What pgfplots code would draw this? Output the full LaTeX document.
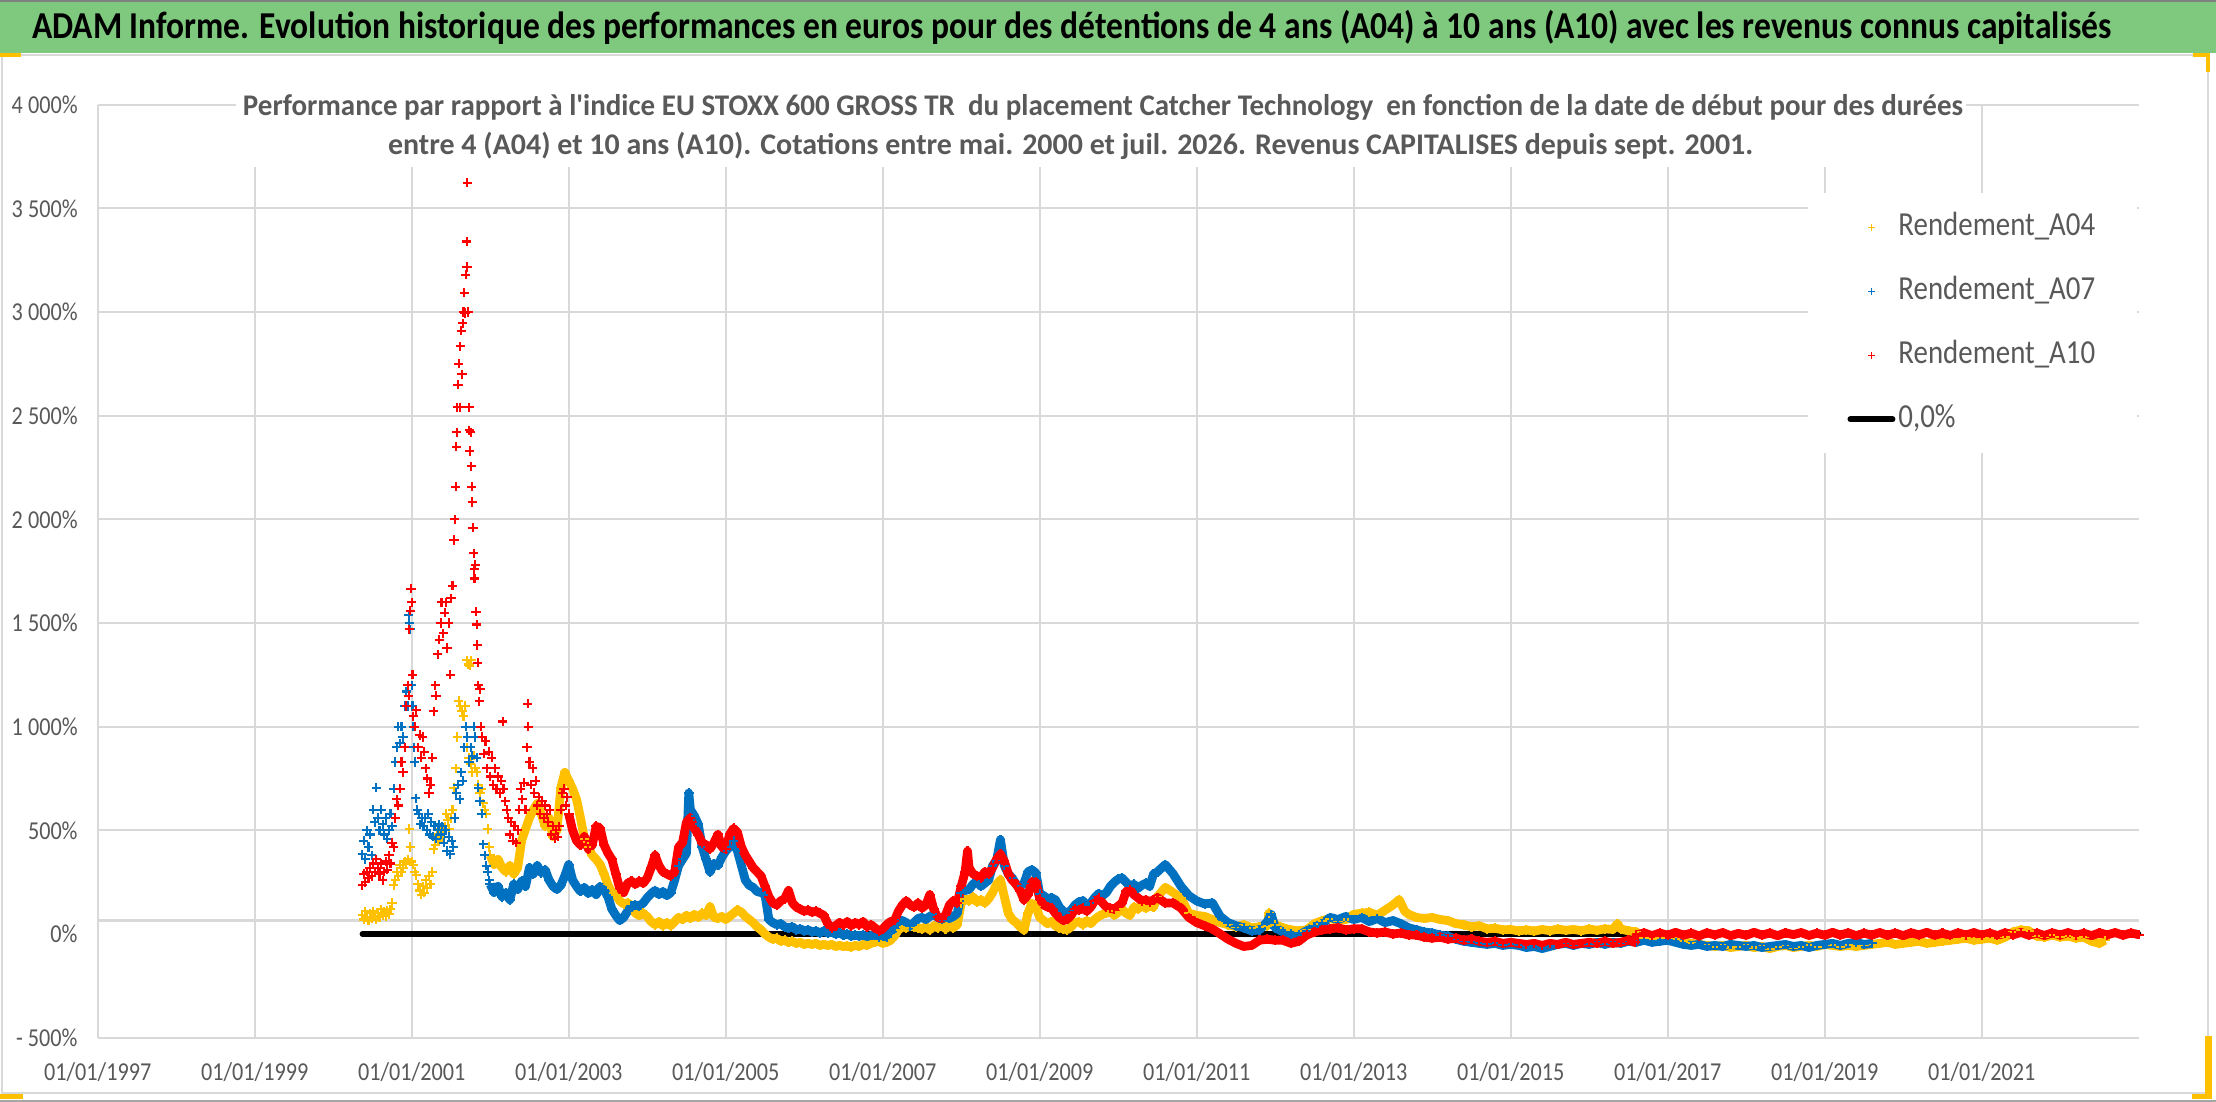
\documentclass[border=0pt]{standalone}
\usepackage{pgfplots}
\pgfplotsset{compat=1.18}
\usepackage{graphicx}
\usepackage{fontspec}
\setmainfont{Carlito}
\newfontfamily\tickfont[FakeStretch=0.86]{Carlito}
\definecolor{cgold}{HTML}{FFC000}
\definecolor{cblue}{HTML}{0070C0}
\definecolor{cred}{HTML}{FF0000}
\definecolor{cgrid}{HTML}{D9D9D9}
\definecolor{ctext}{HTML}{595959}
\definecolor{cgreen}{RGB}{127,201,127}
\pgfplotsset{
  legend image code/.code={\path[draw=none,fill=none] (0bp,-3bp) rectangle (24bp,3bp); \draw[mark repeat=2,mark phase=2,#1, mark size=1.7bp, mark options={line width=0.6bp}] plot coordinates {(0bp,0bp) (12bp,0bp) (24bp,0bp)};},
  zeroleg/.style={legend image code/.code={\path[draw=none,fill=none] (0bp,-3bp) rectangle (24bp,3bp); \draw[black, line width=3bp, line cap=round] (1.5bp,0bp) -- (22.5bp,0bp);}},
  scat/.style={only marks, mark=+, mark size=2.3bp, mark options={line width=1.05bp}},
  band/.style={line width=4.4bp, line join=round, mark=+, mark size=2.4bp, mark options={line width=1.05bp}, forget plot},
}
\begin{document}
\begin{tikzpicture}
\useasboundingbox (0bp,0bp) rectangle (1108bp,551bp);
\fill[white] (0bp,0bp) rectangle (1108bp,551bp);
\fill[cgreen] (0bp,524.5bp) rectangle (1108bp,550bp);
\draw[gray, line width=1bp] (0bp,550.5bp) -- (1108bp,550.5bp);
\draw[gray!70, line width=1bp] (0bp,0.5bp) -- (1108bp,0.5bp);
\draw[cgrid, line width=1bp] (1bp,4.5bp) rectangle (1104bp,523.5bp);
\fill[cgold] (0bp,522.5bp) rectangle (10.5bp,524.5bp);
\fill[cgold] (1096.5bp,522.5bp) rectangle (1105bp,524.5bp);
\fill[cgold] (1103bp,515bp) rectangle (1105bp,524.5bp);
\fill[cgold] (0bp,1.5bp) rectangle (11.5bp,4bp);
\fill[cgold] (1096bp,1.5bp) rectangle (1106bp,4bp);
\fill[cgold] (1102.5bp,1.5bp) rectangle (1106bp,33bp);
\node[anchor=base, inner sep=0pt] at (535.9bp,531.7bp) {\resizebox{1039.7bp}{\height}{\fontsize{19bp}{22bp}\selectfont\bfseries ADAM Informe. Evolution historique des performances en euros pour des détentions de 4 ans (A04) à 10 ans (A10) avec les revenus connus capitalisés}};
\begin{axis}[
  at={(48.85bp,32.15bp)}, anchor=south west,
  width=1020.5bp, height=466.5bp, scale only axis,
  xmin=1997, xmax=2023, ymin=-500, ymax=4000,
  clip=false,
  axis line style={draw=none},
  xtick={1997,1999,2001,2003,2005,2007,2009,2011,2013,2015,2017,2019,2021},
  xticklabels={01/01/1997,01/01/1999,01/01/2001,01/01/2003,01/01/2005,01/01/2007,01/01/2009,01/01/2011,01/01/2013,01/01/2015,01/01/2017,01/01/2019,01/01/2021},
  ytick={-500,500,1000,1500,2000,2500,3000,3500,4000},
  yticklabels={- 500\%,500\%,1 000\%,1 500\%,2 000\%,2 500\%,3 000\%,3 500\%,4 000\%},
  extra y ticks={0}, extra y tick labels={0\%}, extra y tick style={grid=none},
  minor ytick={65}, yminorgrids, minor grid style={cgrid, line width=1.1bp},
  xmajorgrids, ymajorgrids, major grid style={cgrid, line width=1.1bp},
  major tick length=0pt, minor tick length=0pt,
  tick style={draw=none},
  ticklabel style={font=\fontsize{12.9bp}{14bp}\tickfont, text=ctext},
  xticklabel style={anchor=center, inner sep=0pt, yshift=-17.15bp},
  yticklabel style={anchor=east, inner sep=0pt, xshift=-9.85bp},
  legend style={at={(0.838,0.9054)}, anchor=north west, draw=none, fill=white,
    inner xsep=19.5bp, inner ysep=10bp, row sep=18bp,
    font=\fontsize{16.8bp}{18bp}\tickfont, text=ctext,
    nodes={text height=11bp, text depth=3bp, inner xsep=1.5bp, inner ysep=0pt}},
  legend cell align=left,
]
% zero line
\addplot[black, line width=2.6bp, line cap=round, forget plot] coordinates {(2000.37,0) (2023.0,0)};
% ---------- A04 ----------
\addplot[scat, color=cgold] coordinates {
(2000.37,90) (2000.39,70) (2000.41,110) (2000.43,80) (2000.45,65) (2000.47,100) (2000.49,75) (2000.51,110) (2000.53,85) (2000.55,70) (2000.57,100) (2000.59,80) (2000.61,120) (2000.63,90) (2000.65,110) (2000.67,85) (2000.69,113) (2000.71,95) (2000.73,120) (2000.75,150) (2000.77,236) (2000.79,260) (2000.81,300) (2000.83,280) (2000.85,335) (2000.87,300) (2000.89,320) (2000.91,350) (2000.93,340) (2000.95,360) (2000.97,507) (2000.98,420) (2001.00,350) (2001.02,335) (2001.04,300) (2001.06,285) (2001.08,240) (2001.10,210) (2001.12,190) (2001.14,230) (2001.16,200) (2001.18,260) (2001.20,220) (2001.22,280) (2001.24,240) (2001.26,300) (2001.28,410) (2001.30,430) (2001.32,480) (2001.34,450) (2001.36,507) (2001.38,470) (2001.40,500) (2001.42,520) (2001.44,580) (2001.46,550) (2001.48,507) (2001.50,560) (2001.52,600) (2001.54,705) (2001.56,800) (2001.58,950) (2001.60,1125) (2001.62,1100) (2001.64,1075) (2001.66,1050) (2001.68,1100) (2001.70,1320) (2001.72,1300) (2001.74,1295) (2001.76,1320) (2001.71,900) (2001.73,850) (2001.75,820) (2001.77,780) (2001.79,860) (2001.81,800) (2001.83,780) (2001.85,720) (2001.87,680) (2001.89,700) (2001.91,630) (2001.93,600) (2001.95,580) (2001.97,507) (2001.99,420) (2002.00,380)
};
\addlegendentry{Rendement\_A04}
\addplot[band, color=cgold] coordinates {
(2002.00,380) (2002.05,335) (2002.10,360) (2002.15,320) (2002.20,300) (2002.25,330) (2002.30,290) (2002.35,320) (2002.40,450) (2002.45,507) (2002.50,560) (2002.55,600) (2002.60,630) (2002.65,580) (2002.70,520) (2002.75,560) (2002.80,470) (2002.85,500) (2002.90,705) (2002.95,780) (2003.00,740) (2003.05,700) (2003.10,650) (2003.15,560) (2003.20,460) (2003.25,420) (2003.30,380) (2003.35,360) (2003.40,335) (2003.45,290) (2003.50,236) (2003.55,200) (2003.60,187) (2003.65,160) (2003.70,145) (2003.75,150) (2003.80,138) (2003.85,100) (2003.90,89) (2003.95,100) (2004.00,84) (2004.05,60) (2004.10,45) (2004.15,60) (2004.20,40) (2004.25,55) (2004.30,40) (2004.35,60) (2004.40,80) (2004.45,70) (2004.50,90) (2004.55,75) (2004.60,95) (2004.65,80) (2004.70,100) (2004.75,90) (2004.80,132) (2004.85,80) (2004.90,75) (2004.95,85) (2005.00,70) (2005.05,85) (2005.10,100) (2005.15,116) (2005.20,105) (2005.25,85) (2005.30,70) (2005.35,55) (2005.40,35) (2005.45,20) (2005.50,0) (2005.55,-15) (2005.60,-25) (2005.65,-20) (2005.70,-35) (2005.75,-30) (2005.80,-40) (2005.85,-35) (2005.90,-45) (2005.95,-40) (2006.00,-50) (2006.05,-45) (2006.10,-50) (2006.15,-45) (2006.20,-55) (2006.25,-50) (2006.30,-55) (2006.35,-50) (2006.40,-60) (2006.45,-55) (2006.50,-60) (2006.55,-58) (2006.60,-62) (2006.65,-55) (2006.70,-60) (2006.75,-50) (2006.80,-55) (2006.85,-45) (2006.90,-40) (2006.95,-35) (2007.00,-45) (2007.05,-40) (2007.10,-30) (2007.15,-10) (2007.20,20) (2007.25,35) (2007.30,30) (2007.35,40) (2007.40,35) (2007.45,30) (2007.50,25) (2007.55,35) (2007.60,20) (2007.65,40) (2007.70,30) (2007.75,50) (2007.80,25) (2007.85,40) (2007.90,30) (2007.95,45) (2008.00,150) (2008.05,170) (2008.10,160) (2008.15,180) (2008.20,155) (2008.25,165) (2008.30,150) (2008.35,170) (2008.40,200) (2008.45,240) (2008.50,261) (2008.55,180) (2008.60,100) (2008.65,70) (2008.70,55) (2008.75,35) (2008.80,19) (2008.85,100) (2008.90,148) (2008.95,135) (2009.00,80) (2009.05,65) (2009.10,50) (2009.15,60) (2009.20,40) (2009.25,30) (2009.30,25) (2009.35,20) (2009.40,35) (2009.45,55) (2009.50,60) (2009.55,45) (2009.60,65) (2009.65,50) (2009.70,70) (2009.75,85) (2009.80,95) (2009.85,100) (2009.90,110) (2009.95,90) (2010.00,105) (2010.05,120) (2010.10,100) (2010.15,90) (2010.20,130) (2010.25,120) (2010.30,140) (2010.35,125) (2010.40,135) (2010.45,130) (2010.50,180)
(2010.6,225) (2010.7,200) (2010.8,175) (2010.9,100) (2011.0,90) (2011.1,85) (2011.2,70) (2011.3,55) (2011.4,45) (2011.5,35) (2011.6,45) (2011.7,30) (2011.8,35) (2011.9,40) (2011.92,100) (2012.0,45) (2012.1,30) (2012.2,20) (2012.3,15) (2012.4,20) (2012.5,50) (2012.6,65) (2012.7,75) (2012.8,65) (2012.9,70) (2013.0,95) (2013.1,100) (2013.2,105) (2013.3,90) (2013.4,115) (2013.5,140) (2013.58,166) (2013.65,110) (2013.7,95) (2013.8,80) (2013.9,75) (2014.0,80) (2014.1,70) (2014.2,65) (2014.3,50) (2014.4,45) (2014.5,35) (2014.6,40) (2014.7,25) (2014.8,28) (2014.9,20) (2015.0,22) (2015.1,15) (2015.2,20) (2015.3,14) (2015.4,22) (2015.5,16) (2015.6,24) (2015.7,18) (2015.8,22) (2015.9,16) (2016.0,24) (2016.1,18) (2016.2,25) (2016.3,22) (2016.36,50) (2016.4,25) (2016.5,15) (2016.6,10) (2016.7,-20) (2016.8,-25) (2016.9,-20) (2017.0,-30) (2017.1,-25) (2017.2,-35) (2017.3,-45) (2017.4,-50) (2017.5,-55) (2017.6,-60) (2017.7,-55) (2017.8,-65) (2017.9,-60) (2018.0,-55) (2018.1,-65) (2018.2,-60) (2018.3,-70) (2018.4,-60) (2018.5,-55) (2018.6,-65) (2018.7,-60) (2018.8,-55) (2018.9,-60) (2019.0,-50) (2019.1,-55) (2019.2,-60) (2019.3,-55) (2019.4,-60) (2019.5,-55) (2019.6,-50) (2019.7,-45) (2019.8,-40) (2019.9,-50) (2020.0,-45) (2020.1,-40) (2020.2,-35) (2020.3,-45) (2020.4,-40) (2020.5,-35) (2020.6,-30) (2020.7,-25) (2020.8,-20) (2020.9,-30) (2021.0,-25) (2021.1,-20) (2021.2,-30) (2021.3,-15) (2021.4,10) (2021.5,20) (2021.6,15) (2021.7,-10) (2021.8,-15) (2021.9,-5) (2022.0,-15) (2022.1,-10) (2022.2,-20) (2022.3,-15) (2022.4,-35) (2022.5,-45) (2022.57,-30)
};
% ---------- A07 ----------
\addplot[scat, color=cblue] coordinates {
(2000.37,385) (2000.39,450) (2000.41,360) (2000.43,500) (2000.45,420) (2000.47,480) (2000.49,380) (2000.51,600) (2000.53,540) (2000.55,705) (2000.57,560) (2000.59,500) (2000.61,600) (2000.63,530) (2000.65,480) (2000.67,560) (2000.69,460) (2000.71,500) (2000.73,580) (2000.75,520) (2000.77,700) (2000.79,830) (2000.81,900) (2000.83,1000) (2000.85,920) (2000.87,1000) (2000.89,950) (2000.91,1100) (2000.93,1170) (2000.95,1100) (2000.96,1540) (2000.97,1500) (2000.98,1470) (2001.00,1200) (2001.01,1100) (2001.02,1000) (2001.03,900) (2001.04,830) (2001.05,655) (2001.07,600) (2001.09,580) (2001.11,530) (2001.13,560) (2001.15,520) (2001.17,560) (2001.19,500) (2001.21,580) (2001.23,480) (2001.25,540) (2001.27,470) (2001.29,520) (2001.31,460) (2001.33,500) (2001.35,530) (2001.37,480) (2001.39,520) (2001.41,440) (2001.43,500) (2001.45,400) (2001.47,470) (2001.49,385) (2001.51,450) (2001.53,420) (2001.55,560) (2001.57,680) (2001.59,720) (2001.61,650) (2001.63,780) (2001.65,740) (2001.67,900) (2001.69,1000) (2001.71,950) (2001.73,830) (2001.75,900) (2001.77,860) (2001.79,1000) (2001.81,950) (2001.83,850) (2001.85,705) (2001.87,640) (2001.89,580) (2001.91,433) (2001.93,380) (2001.95,330) (2001.97,300) (2001.99,260) (2002.00,240)
};
\addlegendentry{Rendement\_A07}
\addplot[band, color=cblue] coordinates {
(2002.00,240) (2002.05,200) (2002.10,230) (2002.15,180) (2002.20,200) (2002.25,165) (2002.30,240) (2002.35,215) (2002.40,255) (2002.45,230) (2002.50,320) (2002.55,290) (2002.60,330) (2002.65,295) (2002.70,310) (2002.75,260) (2002.80,230) (2002.85,215) (2002.90,235) (2002.95,280) (2003.00,335) (2003.05,260) (2003.10,230) (2003.15,205) (2003.20,225) (2003.25,195) (2003.30,215) (2003.35,190) (2003.40,230) (2003.45,212) (2003.50,180) (2003.55,120) (2003.60,90) (2003.65,65) (2003.70,80) (2003.75,110) (2003.80,135) (2003.85,140) (2003.90,135) (2003.95,150) (2004.00,175) (2004.05,195) (2004.10,210) (2004.15,190) (2004.20,205) (2004.25,185) (2004.30,200) (2004.35,260) (2004.40,330) (2004.45,360) (2004.50,390) (2004.53,680) (2004.55,600) (2004.60,570) (2004.65,530) (2004.70,420) (2004.75,360) (2004.80,300) (2004.85,340) (2004.90,330) (2004.95,370) (2005.00,400) (2005.05,420) (2005.10,450) (2005.15,400) (2005.20,330) (2005.25,260) (2005.30,235) (2005.35,225) (2005.40,205) (2005.45,200) (2005.50,190) (2005.55,70) (2005.60,55) (2005.65,45) (2005.70,50) (2005.75,35) (2005.80,30) (2005.85,35) (2005.90,20) (2005.95,25) (2006.00,15) (2006.05,20) (2006.10,10) (2006.15,15) (2006.20,5) (2006.25,15) (2006.30,5) (2006.35,10) (2006.40,0) (2006.45,5) (2006.50,-5) (2006.55,0) (2006.60,-10) (2006.65,-5) (2006.70,-10) (2006.75,-5) (2006.80,-12) (2006.85,-8) (2006.90,-5) (2006.95,-15) (2007.00,-10) (2007.05,-13) (2007.10,5) (2007.15,30) (2007.20,50) (2007.25,65) (2007.30,55) (2007.35,40) (2007.40,55) (2007.45,75) (2007.50,80) (2007.55,70) (2007.60,85) (2007.65,95) (2007.70,80) (2007.75,70) (2007.80,90) (2007.85,75) (2007.90,85) (2007.95,100) (2008.00,200) (2008.05,210) (2008.10,215) (2008.15,240) (2008.20,255) (2008.25,230) (2008.30,245) (2008.35,260) (2008.40,330) (2008.45,355) (2008.50,455) (2008.55,330) (2008.60,290) (2008.65,270) (2008.70,240) (2008.75,230) (2008.80,245) (2008.85,300) (2008.90,310) (2008.95,295) (2009.00,195) (2009.05,185) (2009.10,170) (2009.15,175) (2009.20,165) (2009.25,130) (2009.30,110) (2009.35,100) (2009.40,115) (2009.45,140) (2009.50,155) (2009.55,160) (2009.60,140) (2009.65,150) (2009.70,175) (2009.75,195) (2009.80,185) (2009.85,200) (2009.90,230) (2009.95,250) (2010.00,265) (2010.05,270) (2010.10,250) (2010.15,230) (2010.20,240) (2010.25,220) (2010.30,235) (2010.35,245) (2010.40,230) (2010.45,290) (2010.50,300)
(2010.6,335) (2010.7,290) (2010.8,230) (2010.9,185) (2011.0,160) (2011.1,145) (2011.2,150) (2011.3,85) (2011.4,55) (2011.5,40) (2011.6,30) (2011.7,15) (2011.8,20) (2011.9,60) (2011.95,94) (2012.0,30) (2012.1,10) (2012.2,0) (2012.3,-5) (2012.4,15) (2012.5,35) (2012.6,50) (2012.7,80) (2012.8,70) (2012.9,85) (2013.0,70) (2013.1,80) (2013.2,60) (2013.3,75) (2013.4,55) (2013.5,65) (2013.6,50) (2013.7,30) (2013.8,20) (2013.9,10) (2014.0,5) (2014.1,-5) (2014.2,-10) (2014.3,-25) (2014.4,-35) (2014.5,-40) (2014.6,-45) (2014.7,-50) (2014.8,-45) (2014.9,-55) (2015.0,-50) (2015.1,-55) (2015.2,-65) (2015.3,-60) (2015.4,-70) (2015.5,-60) (2015.6,-50) (2015.7,-45) (2015.8,-55) (2015.9,-45) (2016.0,-50) (2016.1,-40) (2016.2,-50) (2016.3,-40) (2016.4,-45) (2016.5,-35) (2016.6,-40) (2016.7,-30) (2016.8,-40) (2016.9,-35) (2017.0,-30) (2017.1,-40) (2017.2,-50) (2017.3,-55) (2017.4,-50) (2017.5,-60) (2017.6,-55) (2017.7,-60) (2017.8,-50) (2017.9,-55) (2018.0,-60) (2018.1,-55) (2018.2,-65) (2018.3,-60) (2018.4,-55) (2018.5,-50) (2018.6,-60) (2018.7,-55) (2018.8,-65) (2018.9,-55) (2019.0,-50) (2019.1,-45) (2019.2,-55) (2019.3,-45) (2019.4,-40) (2019.5,-50) (2019.6,-45)
};
% ---------- A10 ----------
\addplot[scat, color=cred] coordinates {
(2000.37,236) (2000.39,290) (2000.41,250) (2000.43,300) (2000.45,270) (2000.47,320) (2000.49,280) (2000.51,340) (2000.53,300) (2000.55,360) (2000.57,320) (2000.59,290) (2000.61,340) (2000.63,260) (2000.65,300) (2000.67,350) (2000.69,310) (2000.71,380) (2000.73,340) (2000.75,440) (2000.77,420) (2000.79,560) (2000.81,650) (2000.83,620) (2000.85,700) (2000.87,830) (2000.89,780) (2000.91,900) (2000.93,1100) (2000.95,1200) (2000.96,1150) (2000.97,1470) (2000.98,1560) (2000.99,1665) (2001.00,1600) (2001.01,1250) (2001.02,1050) (2001.04,1000) (2001.06,1080) (2001.08,900) (2001.10,960) (2001.12,850) (2001.14,950) (2001.16,880) (2001.18,800) (2001.20,750) (2001.22,680) (2001.24,720) (2001.26,850) (2001.28,1075) (2001.30,1200) (2001.31,1150) (2001.33,1350) (2001.35,1420) (2001.37,1500) (2001.38,1600) (2001.40,1450) (2001.42,1550) (2001.44,1600) (2001.45,1380) (2001.47,1500) (2001.49,1250) (2001.50,1620) (2001.52,1680)
(2001.54,1900) (2001.55,2000) (2001.56,2157) (2001.57,2350) (2001.575,2420) (2001.58,2540) (2001.59,2650) (2001.60,2750) (2001.61,2540) (2001.62,2835) (2001.63,2910) (2001.64,2700) (2001.65,2945) (2001.66,3000) (2001.67,3093) (2001.68,2995) (2001.69,3180) (2001.70,3340) (2001.705,3217) (2001.71,3623) (2001.72,3000) (2001.73,2540) (2001.735,2430) (2001.74,2330) (2001.75,2420) (2001.76,2256) (2001.765,2157) (2001.77,2084) (2001.78,1960) (2001.79,1837) (2001.795,1760) (2001.80,1715) (2001.81,1780) (2001.82,1554) (2001.83,1493) (2001.835,1394) (2001.84,1308) (2001.85,1200) (2001.86,1123) (2001.87,1180)
(2001.88,1000) (2001.90,950) (2001.92,870) (2001.94,930) (2001.96,800) (2001.98,880) (2002.00,760) (2002.02,850) (2002.04,720) (2002.06,800) (2002.08,700) (2002.10,760) (2002.12,680) (2002.14,740) (2002.16,1025) (2002.17,700) (2002.19,640) (2002.21,600) (2002.23,560) (2002.25,480) (2002.27,540) (2002.29,450) (2002.31,520) (2002.33,440) (2002.35,500) (2002.37,600) (2002.39,700) (2002.41,650) (2002.43,730) (2002.45,600) (2002.47,900) (2002.48,1110) (2002.485,1000) (2002.50,830) (2002.52,720) (2002.54,800) (2002.56,680) (2002.58,740) (2002.60,620) (2002.62,660) (2002.64,580) (2002.66,640) (2002.68,560) (2002.70,620) (2002.72,580) (2002.74,540) (2002.76,600) (2002.78,480) (2002.80,520) (2002.82,460) (2002.84,500) (2002.86,470) (2002.88,520) (2002.90,600) (2002.92,680) (2002.94,700) (2002.96,620) (2002.98,660) (2003.00,580)
};
\addlegendentry{Rendement\_A10}
\addplot[band, color=cred] coordinates {
(2003.00,580) (2003.05,500) (2003.10,450) (2003.15,430) (2003.20,470) (2003.25,410) (2003.30,430) (2003.35,520) (2003.40,510) (2003.45,430) (2003.50,390) (2003.55,360) (2003.60,290) (2003.65,220) (2003.70,200) (2003.75,245) (2003.80,255) (2003.85,240) (2003.90,255) (2003.95,245) (2004.00,270) (2004.05,320) (2004.10,380) (2004.15,330) (2004.20,300) (2004.25,290) (2004.30,280) (2004.35,300) (2004.40,420) (2004.45,440) (2004.50,540) (2004.55,560) (2004.60,510) (2004.65,480) (2004.70,440) (2004.75,430) (2004.80,410) (2004.85,440) (2004.90,480) (2004.95,420) (2005.00,410) (2005.05,480) (2005.10,510) (2005.15,490) (2005.20,420) (2005.25,380) (2005.30,350) (2005.35,320) (2005.40,300) (2005.45,280) (2005.50,230) (2005.55,180) (2005.60,150) (2005.65,140) (2005.70,160) (2005.75,170) (2005.80,210) (2005.85,150) (2005.90,130) (2005.95,120) (2006.00,110) (2006.05,115) (2006.10,105) (2006.15,110) (2006.20,100) (2006.25,90) (2006.30,50) (2006.35,30) (2006.40,40) (2006.45,55) (2006.50,45) (2006.55,60) (2006.60,40) (2006.65,55) (2006.70,45) (2006.75,60) (2006.80,35) (2006.85,45) (2006.90,30) (2006.95,15) (2007.00,25) (2007.05,45) (2007.10,60) (2007.15,65) (2007.20,110) (2007.25,140) (2007.30,160) (2007.35,140) (2007.40,130) (2007.45,150) (2007.50,125) (2007.55,140) (2007.60,190) (2007.65,120) (2007.70,80) (2007.75,75) (2007.80,90) (2007.85,140) (2007.90,160) (2007.95,150) (2008.00,230) (2008.05,300) (2008.08,400) (2008.10,320) (2008.15,290) (2008.20,280) (2008.25,270) (2008.30,300) (2008.35,290) (2008.40,320) (2008.45,360) (2008.50,385) (2008.55,350) (2008.60,290) (2008.65,260) (2008.70,240) (2008.75,210) (2008.80,165) (2008.85,190) (2008.90,250) (2008.95,250) (2009.00,170) (2009.05,140) (2009.10,130) (2009.15,125) (2009.20,100) (2009.25,80) (2009.30,65) (2009.35,70) (2009.40,90) (2009.45,120) (2009.50,115) (2009.55,125) (2009.60,110) (2009.65,130) (2009.70,160) (2009.75,175) (2009.80,150) (2009.85,130) (2009.90,125) (2009.95,120) (2010.00,135) (2010.05,150) (2010.10,205) (2010.15,215) (2010.20,190) (2010.25,175) (2010.30,160) (2010.35,165) (2010.40,155) (2010.45,165) (2010.50,175)
(2010.6,150) (2010.7,150) (2010.8,125) (2010.9,80) (2011.0,55) (2011.1,40) (2011.2,25) (2011.3,0) (2011.4,-25) (2011.5,-45) (2011.6,-60) (2011.7,-55) (2011.8,-30) (2011.9,-25) (2012.0,-30) (2012.1,-30) (2012.2,-45) (2012.3,-35) (2012.4,-5) (2012.5,10) (2012.6,20) (2012.7,25) (2012.8,30) (2012.9,20) (2013.0,25) (2013.1,25) (2013.2,10) (2013.3,5) (2013.4,10) (2013.5,0) (2013.6,5) (2013.7,-5) (2013.8,-5) (2013.9,-15) (2014.0,-20) (2014.1,-15) (2014.2,-25) (2014.3,-20) (2014.4,-30) (2014.5,-25) (2014.6,-35) (2014.7,-40) (2014.8,-35) (2014.9,-45) (2015.0,-40) (2015.1,-45) (2015.2,-50) (2015.3,-45) (2015.4,-55) (2015.5,-45) (2015.6,-50) (2015.7,-40) (2015.8,-50) (2015.9,-45) (2016.0,-40) (2016.1,-45) (2016.2,-35) (2016.3,-45) (2016.4,-40) (2016.5,-30) (2016.58,-40)
(2016.6,-5) (2016.7,6) (2016.8,-8) (2016.9,5) (2017.0,-6) (2017.1,8) (2017.2,-5) (2017.3,4) (2017.4,-9) (2017.5,6) (2017.6,-4) (2017.7,7) (2017.8,-8) (2017.9,3) (2018.0,-6) (2018.1,8) (2018.2,-5) (2018.3,5) (2018.4,-8) (2018.5,6) (2018.6,-3) (2018.7,7) (2018.8,-7) (2018.9,4) (2019.0,-6) (2019.1,8) (2019.2,-5) (2019.3,6) (2019.4,-8) (2019.5,4) (2019.6,-5) (2019.7,7) (2019.8,-6) (2019.9,5) (2020.0,-8) (2020.1,6) (2020.2,-4) (2020.3,8) (2020.4,-6) (2020.5,4) (2020.6,-7) (2020.7,6) (2020.8,-5) (2020.9,7) (2021.0,-6) (2021.1,5) (2021.2,-8) (2021.3,6) (2021.4,-4) (2021.5,8) (2021.6,-6) (2021.7,5) (2021.8,-7) (2021.9,6) (2022.0,-5) (2022.1,7) (2022.2,-6) (2022.3,4) (2022.4,-8) (2022.5,6) (2022.6,-4) (2022.7,7) (2022.8,-6) (2022.9,5) (2023.0,-3)
};
\addlegendimage{zeroleg}
\addlegendentry{0,0\%}
\end{axis}
\fill[white] (118bp,467.5bp) rectangle (983bp,501bp);
\node[anchor=base, inner sep=0pt, text=ctext] at (551.5bp,493bp) {\resizebox{860bp}{\height}{\fontsize{15bp}{18bp}\selectfont\bfseries Performance par rapport à l\textquotesingle indice EU STOXX 600 GROSS TR~ du placement Catcher Technology~ en fonction de la date de début pour des durées}};
\node[anchor=base, inner sep=0pt, text=ctext] at (535.3bp,473.5bp) {\resizebox{682.5bp}{\height}{\fontsize{15bp}{18bp}\selectfont\bfseries entre 4 (A04) et 10 ans (A10). Cotations entre mai. 2000 et juil. 2026. Revenus CAPITALISES depuis sept. 2001.}};
\end{tikzpicture}
\end{document}
